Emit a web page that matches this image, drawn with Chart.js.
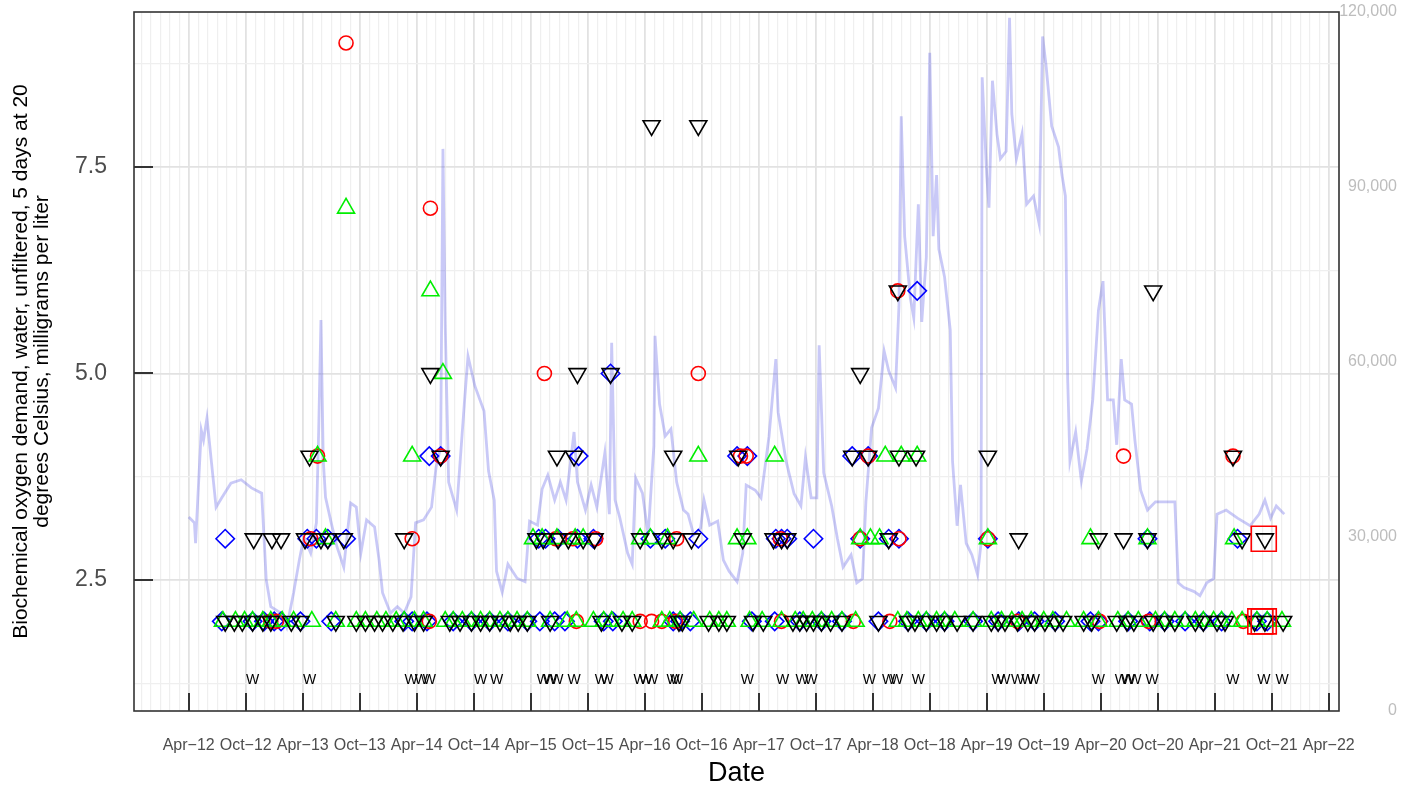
<!DOCTYPE html>
<html>
<head>
<meta charset="utf-8">
<script src="https://cdn.jsdelivr.net/npm/chart.js@4.4.1/dist/chart.umd.min.js"></script>
<style>
  html, body { margin: 0; padding: 0; background: #fff; }
  #wrap { width: 1414px; height: 793px; }
</style>
</head>
<body>
<div id="wrap"><canvas id="chart" width="1414" height="793"></canvas></div>
<script>
// Dates are decimal years (2012.25 = start of April 2012)

// Daily streamflow, right axis
const flowDates = [
  2012.25, 2012.30, 2012.31, 2012.36, 2012.38, 2012.41, 2012.45, 2012.49, 2012.54, 2012.62,
  2012.71, 2012.80, 2012.89, 2012.93, 2012.97, 2013.06, 2013.11, 2013.17, 2013.22, 2013.26,
  2013.32, 2013.37, 2013.39, 2013.41, 2013.43, 2013.45, 2013.50, 2013.55, 2013.61, 2013.67,
  2013.72, 2013.76, 2013.81, 2013.88, 2013.92, 2013.95, 2014.02, 2014.08, 2014.14, 2014.20,
  2014.24, 2014.31, 2014.38, 2014.42, 2014.46, 2014.48, 2014.50, 2014.53, 2014.60, 2014.67,
  2014.70, 2014.76, 2014.84, 2014.88, 2014.93, 2014.95, 2015.00, 2015.05, 2015.13, 2015.20,
  2015.24, 2015.31, 2015.35, 2015.40, 2015.46, 2015.51, 2015.56, 2015.63, 2015.66, 2015.73,
  2015.78, 2015.83, 2015.90, 2015.94, 2015.96, 2015.99, 2016.03, 2016.10, 2016.14, 2016.17,
  2016.23, 2016.28, 2016.33, 2016.34, 2016.38, 2016.43, 2016.48, 2016.53, 2016.59, 2016.63,
  2016.68, 2016.74, 2016.77, 2016.82, 2016.89, 2016.94, 2016.99, 2017.06, 2017.11, 2017.14,
  2017.22, 2017.27, 2017.34, 2017.40, 2017.42, 2017.49, 2017.56, 2017.62, 2017.66, 2017.71,
  2017.76, 2017.78, 2017.82, 2017.89, 2017.94, 2017.99, 2018.06, 2018.11, 2018.16, 2018.19,
  2018.24, 2018.30, 2018.35, 2018.39, 2018.45, 2018.48, 2018.50, 2018.53, 2018.58, 2018.61,
  2018.65, 2018.68, 2018.72, 2018.75, 2018.78, 2018.81, 2018.83, 2018.88, 2018.93, 2018.95,
  2018.99, 2019.02, 2019.07, 2019.12, 2019.17, 2019.20, 2019.21, 2019.25, 2019.27, 2019.30,
  2019.34, 2019.37, 2019.42, 2019.45, 2019.47, 2019.51, 2019.56, 2019.60, 2019.66, 2019.71,
  2019.74, 2019.77, 2019.82, 2019.88, 2019.91, 2019.94, 2019.96, 2019.98, 2020.03, 2020.08,
  2020.13, 2020.18, 2020.23, 2020.27, 2020.31, 2020.36, 2020.39, 2020.43, 2020.46, 2020.52,
  2020.55, 2020.60, 2020.66, 2020.73, 2020.81, 2020.90, 2020.93, 2020.98, 2021.07, 2021.12,
  2021.18, 2021.24, 2021.27, 2021.35, 2021.45, 2021.56, 2021.64, 2021.69, 2021.74, 2021.79,
  2021.86
];
const flowValues = [
  33300, 32300, 28800, 48200, 46500, 50300, 42600, 35000, 36600, 39100,
  39700, 38300, 37400, 22500, 17900, 16800, 14400, 20300, 25900, 29900,
  27100, 32300, 48200, 67100, 43100, 36700, 32300, 28200, 24700, 35700,
  35000, 27100, 32800, 31600, 25900, 20300, 16800, 17900, 16800, 19600,
  32300, 32800, 35000, 41900, 45300, 96500, 66300, 39300, 34500, 53400,
  60900, 55800, 51500, 41200, 36200, 24000, 20400, 25200, 22800, 22200,
  32600, 31900, 38100, 40500, 36200, 39300, 36200, 47900, 39300, 34500,
  38800, 35000, 44300, 33800, 63200, 36200, 33300, 27100, 25200, 40000,
  37400, 30200, 45500, 64400, 52700, 47200, 48400, 39300, 34500, 33800,
  30200, 31400, 36200, 31900, 32600, 25900, 24000, 22200, 27100, 38800,
  37900, 36600, 47100, 60400, 51300, 42900, 37300, 35200, 43600, 36600,
  36600, 62800, 40900, 35200, 29600, 24700, 26800, 22000, 22700, 35900,
  48600, 52000, 61800, 58400, 55500, 69500, 102100, 81500, 70900, 67500,
  87000, 66800, 77900, 113000, 81500, 92000, 79300, 74500, 65400, 42900,
  31800, 38800, 28800, 26800, 23400, 28800, 108800, 92000, 86400, 108200,
  99000, 94800, 96100, 119000, 102500, 94800, 99100, 87000, 88400, 83600,
  115800, 110900, 100400, 96800, 92000, 88400, 57000, 42900, 47900, 39500,
  45000, 53400, 68800, 73800, 53400, 53400, 45700, 60400, 53400, 52700,
  46400, 37900, 34500, 35900, 35900, 35900, 22000, 21200, 20500, 19800,
  22000, 22700, 33800, 34500, 33100, 31800, 33800, 36200, 33100, 35200,
  33800
];

// BOD samples [date, mg/L]
const circleSamples = [
  [2012.97, 2], [2013.02, 2], [2013.32, 3], [2013.38, 4], [2013.63, 9], [2014.21, 3],
  [2014.36, 2], [2014.37, 7], [2014.46, 4], [2015.37, 5], [2015.47, 3], [2015.62, 3],
  [2015.65, 2], [2015.82, 3], [2016.21, 2], [2016.31, 2], [2016.40, 2], [2016.52, 2],
  [2016.53, 3], [2016.72, 5], [2017.09, 4], [2017.14, 4], [2017.44, 3], [2017.45, 2],
  [2018.08, 2], [2018.14, 3], [2018.21, 4], [2018.40, 2], [2018.47, 6], [2018.48, 3],
  [2019.26, 3], [2019.52, 2], [2020.24, 2], [2020.45, 4], [2020.67, 2], [2021.41, 4],
  [2021.50, 2]
];
const diamondSamples = [
  [2012.54, 2], [2012.57, 3], [2012.81, 2], [2012.91, 2], [2013.00, 2], [2013.06, 2],
  [2013.23, 2], [2013.29, 3], [2013.37, 3], [2013.47, 3], [2013.50, 2], [2013.63, 3],
  [2014.14, 2], [2014.21, 2], [2014.34, 2], [2014.36, 4], [2014.46, 4], [2014.57, 2],
  [2014.73, 2], [2014.89, 2], [2015.05, 2], [2015.22, 2], [2015.32, 3], [2015.33, 2],
  [2015.38, 3], [2015.46, 2], [2015.49, 3], [2015.55, 2], [2015.66, 3], [2015.67, 4],
  [2015.80, 3], [2015.89, 2], [2015.95, 5], [2015.97, 2], [2016.30, 3], [2016.43, 3],
  [2016.50, 2], [2016.56, 2], [2016.65, 2], [2016.72, 3], [2017.06, 4], [2017.15, 4],
  [2017.19, 2], [2017.39, 2], [2017.40, 3], [2017.45, 3], [2017.50, 3], [2017.61, 2],
  [2017.73, 3], [2017.80, 2], [2017.98, 2], [2018.07, 4], [2018.14, 3], [2018.21, 4],
  [2018.30, 2], [2018.39, 3], [2018.48, 3], [2018.56, 2], [2018.64, 6], [2018.72, 2],
  [2018.88, 2], [2019.13, 2], [2019.26, 3], [2019.35, 2], [2019.53, 2], [2019.67, 2],
  [2019.85, 2], [2020.16, 2], [2020.23, 2], [2020.49, 2], [2020.66, 3], [2020.68, 2],
  [2020.81, 2], [2020.99, 2], [2021.15, 2], [2021.31, 2], [2021.45, 3], [2021.62, 2],
  [2021.71, 2]
];
const triangleSamples = [
  [2012.55, 2], [2012.66, 2], [2012.74, 2], [2012.81, 2], [2012.90, 2], [2012.97, 2],
  [2013.07, 2], [2013.17, 2], [2013.33, 2], [2013.38, 4], [2013.45, 3], [2013.54, 2],
  [2013.63, 7], [2013.72, 2], [2013.80, 2], [2013.90, 2], [2013.98, 2], [2014.07, 2],
  [2014.14, 2], [2014.21, 4], [2014.23, 2], [2014.31, 2], [2014.37, 6], [2014.48, 5],
  [2014.50, 2], [2014.57, 2], [2014.65, 2], [2014.73, 2], [2014.81, 2], [2014.89, 2],
  [2014.98, 2], [2015.05, 2], [2015.13, 2], [2015.22, 2], [2015.27, 3], [2015.35, 3],
  [2015.42, 2], [2015.48, 3], [2015.57, 2], [2015.64, 3], [2015.65, 2], [2015.71, 3],
  [2015.80, 2], [2015.89, 2], [2015.96, 2], [2016.06, 2], [2016.14, 2], [2016.21, 3],
  [2016.30, 3], [2016.40, 2], [2016.45, 3], [2016.47, 2], [2016.56, 2], [2016.68, 2],
  [2016.72, 4], [2016.82, 2], [2016.90, 2], [2016.97, 2], [2017.06, 3], [2017.15, 3],
  [2017.17, 2], [2017.28, 2], [2017.39, 4], [2017.45, 2], [2017.57, 2], [2017.64, 2],
  [2017.72, 2], [2017.80, 2], [2017.89, 2], [2017.98, 2], [2018.10, 2], [2018.14, 3],
  [2018.23, 3], [2018.31, 3], [2018.36, 4], [2018.47, 2], [2018.50, 4], [2018.55, 2],
  [2018.64, 4], [2018.65, 2], [2018.72, 2], [2018.81, 2], [2018.88, 2], [2018.97, 2],
  [2019.13, 2], [2019.26, 3], [2019.29, 2], [2019.38, 2], [2019.47, 2], [2019.56, 2],
  [2019.64, 2], [2019.75, 2], [2019.83, 2], [2019.95, 2], [2020.10, 2], [2020.16, 3],
  [2020.23, 2], [2020.40, 2], [2020.49, 2], [2020.58, 2], [2020.66, 3], [2020.73, 2],
  [2020.81, 2], [2020.90, 2], [2020.99, 2], [2021.08, 2], [2021.15, 2], [2021.24, 2],
  [2021.31, 2], [2021.40, 2], [2021.42, 3], [2021.49, 2], [2021.62, 2], [2021.71, 2],
  [2021.84, 2]
];
const invTriangleSamples = [
  [2012.57, 2], [2012.65, 2], [2012.72, 2], [2012.81, 2], [2012.82, 3], [2012.90, 2],
  [2012.97, 2], [2012.98, 3], [2013.06, 3], [2013.15, 2], [2013.23, 2], [2013.27, 3],
  [2013.31, 4], [2013.41, 3], [2013.47, 3], [2013.54, 2], [2013.61, 3], [2013.72, 2],
  [2013.80, 2], [2013.88, 2], [2013.95, 2], [2014.04, 2], [2014.13, 2], [2014.14, 3],
  [2014.23, 2], [2014.31, 2], [2014.37, 5], [2014.46, 4], [2014.54, 2], [2014.63, 2],
  [2014.73, 2], [2014.81, 2], [2014.89, 2], [2014.98, 2], [2015.07, 2], [2015.14, 2],
  [2015.22, 2], [2015.30, 3], [2015.36, 3], [2015.42, 2], [2015.48, 4], [2015.49, 3],
  [2015.58, 3], [2015.63, 4], [2015.66, 5], [2015.71, 3], [2015.81, 3], [2015.87, 2],
  [2015.95, 5], [2016.05, 2], [2016.14, 2], [2016.21, 3], [2016.31, 8], [2016.40, 3],
  [2016.50, 3], [2016.50, 4], [2016.55, 2], [2016.58, 2], [2016.66, 3], [2016.72, 8],
  [2016.81, 2], [2016.90, 2], [2016.97, 2], [2017.07, 4], [2017.11, 3], [2017.20, 2],
  [2017.29, 2], [2017.38, 3], [2017.45, 3], [2017.50, 3], [2017.55, 2], [2017.61, 2],
  [2017.67, 2], [2017.73, 2], [2017.80, 2], [2017.88, 2], [2017.98, 2], [2018.07, 4],
  [2018.14, 5], [2018.21, 4], [2018.30, 2], [2018.39, 3], [2018.47, 6], [2018.48, 4],
  [2018.56, 2], [2018.62, 2], [2018.63, 4], [2018.72, 2], [2018.81, 2], [2018.88, 2],
  [2018.99, 2], [2019.13, 2], [2019.26, 4], [2019.29, 2], [2019.35, 2], [2019.41, 2],
  [2019.52, 2], [2019.53, 3], [2019.61, 2], [2019.67, 2], [2019.76, 2], [2019.85, 2],
  [2019.92, 2], [2020.10, 2], [2020.17, 2], [2020.23, 3], [2020.39, 2], [2020.45, 3],
  [2020.48, 2], [2020.54, 2], [2020.66, 3], [2020.71, 6], [2020.71, 2], [2020.81, 2],
  [2020.90, 2], [2021.08, 2], [2021.15, 2], [2021.27, 2], [2021.34, 2], [2021.41, 4],
  [2021.49, 3], [2021.60, 2], [2021.69, 2], [2021.69, 3], [2021.85, 2]
];

// Highlighted samples (red squares)
const highlightSamples = [[2021.68, 3], [2021.65, 2], [2021.68, 2]];

// Dates flagged with a "W" remark
const wDates = [
  2012.81, 2013.31, 2014.20, 2014.29, 2014.36, 2014.81, 2014.95, 2015.36, 2015.42, 2015.48,
  2015.63, 2015.87, 2015.92, 2016.21, 2016.26, 2016.31, 2016.50, 2016.53, 2017.15, 2017.46,
  2017.63, 2017.71, 2018.22, 2018.39, 2018.46, 2018.65, 2019.35, 2019.40, 2019.52, 2019.61,
  2019.66, 2020.23, 2020.43, 2020.49, 2020.55, 2020.70, 2021.41, 2021.68, 2021.84
];

const yTickValues = [1.25, 2.5, 3.75, 5, 6.25, 7.5, 8.75];
const flowTickValues = [0, 30000, 60000, 90000, 120000];
const yTitleLines = [
  'Biochemical oxygen demand, water, unfiltered, 5 days at 20',
  'degrees Celsius, milligrams per liter'
];

const X_MIN = 2011.77, X_MAX = 2022.34;
const Y_MIN = 0.915, Y_MAX = 9.375;
const W_ROW = 1.29;
const FONT = '"Liberation Sans", Arial, sans-serif';

const toPoints = arr => arr.map(s => ({ x: s[0], y: s[1] }));
const isHalfYear = v => (((Math.round(v * 12) % 6) + 6) % 6) === 3;
const isMajorY = v => Math.abs(v / 2.5 - Math.round(v / 2.5)) < 1e-6;
// keep tick-label overflow from pushing the panel around
const noPad = s => { s.paddingTop = 0; s.paddingBottom = 0; s.paddingLeft = 0; s.paddingRight = 0; };

const decorPlugin = {
    id: 'decor',
    afterDatasetsDraw(chart) {
        const ctx = chart.ctx;
        const idx = chart.data.datasets.findIndex(d => d.label === 'W');
        const meta = chart.getDatasetMeta(idx);
        ctx.save();
        ctx.fillStyle = '#000';
        ctx.font = '14px ' + FONT;
        ctx.textAlign = 'center';
        ctx.textBaseline = 'middle';
        meta.data.forEach(p => ctx.fillText('W', p.x, p.y));
        ctx.restore();
    },
    afterDraw(chart) {
        const { ctx, chartArea: a, scales } = chart;
        ctx.save();
        ctx.strokeStyle = '#333';
        ctx.lineWidth = 2;
        // inward tick marks
        scales.x.ticks.forEach(t => {
            if (!isHalfYear(t.value)) return;
            const px = Math.round(scales.x.getPixelForValue(t.value));
            ctx.beginPath();
            ctx.moveTo(px, a.bottom);
            ctx.lineTo(px, a.bottom - 18);
            ctx.stroke();
        });
        scales.y.ticks.forEach(t => {
            if (!isMajorY(t.value)) return;
            const py = Math.round(scales.y.getPixelForValue(t.value));
            ctx.beginPath();
            ctx.moveTo(a.left, py);
            ctx.lineTo(a.left + 19, py);
            ctx.stroke();
        });
        // panel frame
        ctx.lineWidth = 1.6;
        ctx.strokeRect(a.left, a.top, a.right - a.left, a.bottom - a.top);
        ctx.restore();
    }
};

const hollow = (label, samples, color, style, radius, rotation, order) => ({
    label,
    data: toPoints(samples),
    pointStyle: style,
    pointRadius: radius,
    pointHoverRadius: radius,
    pointRotation: rotation,
    pointBorderColor: color,
    pointBackgroundColor: 'rgba(0,0,0,0)',
    pointBorderWidth: 1.6,
    order
});

new Chart(document.getElementById('chart'), {
    type: 'scatter',
    data: {
        datasets: [
            { label: 'W', data: wDates.map(d => ({ x: d, y: W_ROW })), pointRadius: 0, pointHoverRadius: 0, order: 0 },
            hollow('highlight', highlightSamples, '#ff0000', 'rect', 17.7, 0, 1),
            hollow('inverted triangle', invTriangleSamples, '#000000', 'triangle', 9.8, 180, 2),
            hollow('triangle', triangleSamples, '#00ee00', 'triangle', 9.8, 0, 3),
            hollow('circle', circleSamples, '#ff0000', 'circle', 7, 0, 4),
            hollow('diamond', diamondSamples, '#0000ff', 'rectRot', 9.2, 0, 5),
            {
                type: 'line',
                label: 'flow',
                yAxisID: 'y2',
                data: flowDates.map((d, i) => ({ x: d, y: flowValues[i] })),
                borderColor: 'rgba(90, 90, 230, 0.33)',
                borderWidth: 2.8,
                pointRadius: 0,
                tension: 0,
                fill: false,
                order: 6
            }
        ]
    },
    options: {
        responsive: false,
        animation: false,
        devicePixelRatio: 1,
        events: [],
        layout: { autoPadding: false, padding: { top: 12, left: 0, right: 17, bottom: 0 } },
        plugins: { legend: { display: false }, tooltip: { enabled: false } },
        scales: {
            x: {
                type: 'linear',
                position: 'bottom',
                min: X_MIN,
                max: X_MAX,
                afterBuildTicks: s => {
                    const t = [];
                    for (let k = Math.ceil(X_MIN * 12); k <= Math.floor(X_MAX * 12); k++) t.push({ value: k / 12 });
                    s.ticks = t;
                },
                afterFit: s => { s.height = 82; noPad(s); },
                ticks: {
                    autoSkip: false,
                    maxRotation: 0,
                    minRotation: 0,
                    padding: 25,
                    color: '#4d4d4d',
                    font: { family: FONT, size: 16 },
                    callback: v => {
                        const k = Math.round(v * 12);
                        const m = ((k % 12) + 12) % 12;
                        if (m !== 3 && m !== 9) return '';
                        return (m === 3 ? 'Apr' : 'Oct') + '\u2212' + String(Math.floor(k / 12)).slice(2);
                    }
                },
                grid: {
                    drawTicks: false,
                    color: c => isHalfYear(c.tick.value) ? '#e2e2e2' : '#efefef',
                    lineWidth: c => isHalfYear(c.tick.value) ? 1.8 : 1.2
                },
                border: { display: false },
                title: {
                    display: true,
                    text: 'Date',
                    color: '#000',
                    font: { family: FONT, size: 27 },
                    padding: { top: 0, bottom: 3 }
                }
            },
            y: {
                position: 'left',
                min: Y_MIN,
                max: Y_MAX,
                afterBuildTicks: s => { s.ticks = yTickValues.map(v => ({ value: v })); },
                afterFit: s => { s.width = 134; noPad(s); },
                ticks: {
                    padding: 27,
                    color: '#4d4d4d',
                    font: { family: FONT, size: 23 },
                    callback: v => isMajorY(v) ? v.toFixed(1) : ''
                },
                grid: {
                    drawTicks: false,
                    color: c => isMajorY(c.tick.value) ? '#e2e2e2' : '#efefef',
                    lineWidth: c => isMajorY(c.tick.value) ? 1.8 : 1.2
                },
                border: { display: false },
                title: {
                    display: true,
                    text: yTitleLines,
                    color: '#000',
                    font: { family: FONT, size: 21, lineHeight: 1.03 },
                    padding: { top: 10, bottom: 0 }
                }
            },
            y2: {
                position: 'right',
                min: 0,
                max: 120000,
                afterBuildTicks: s => { s.ticks = flowTickValues.map(v => ({ value: v })); },
                afterFit: s => { s.width = 58; noPad(s); },
                ticks: {
                    crossAlign: 'far',
                    padding: 0,
                    color: '#bdbdbd',
                    font: { family: FONT, size: 16 },
                    callback: v => v.toLocaleString('en-US')
                },
                grid: { display: false, drawTicks: false },
                border: { display: false }
            }
        }
    },
    plugins: [decorPlugin]
});
</script>
</body>
</html>
